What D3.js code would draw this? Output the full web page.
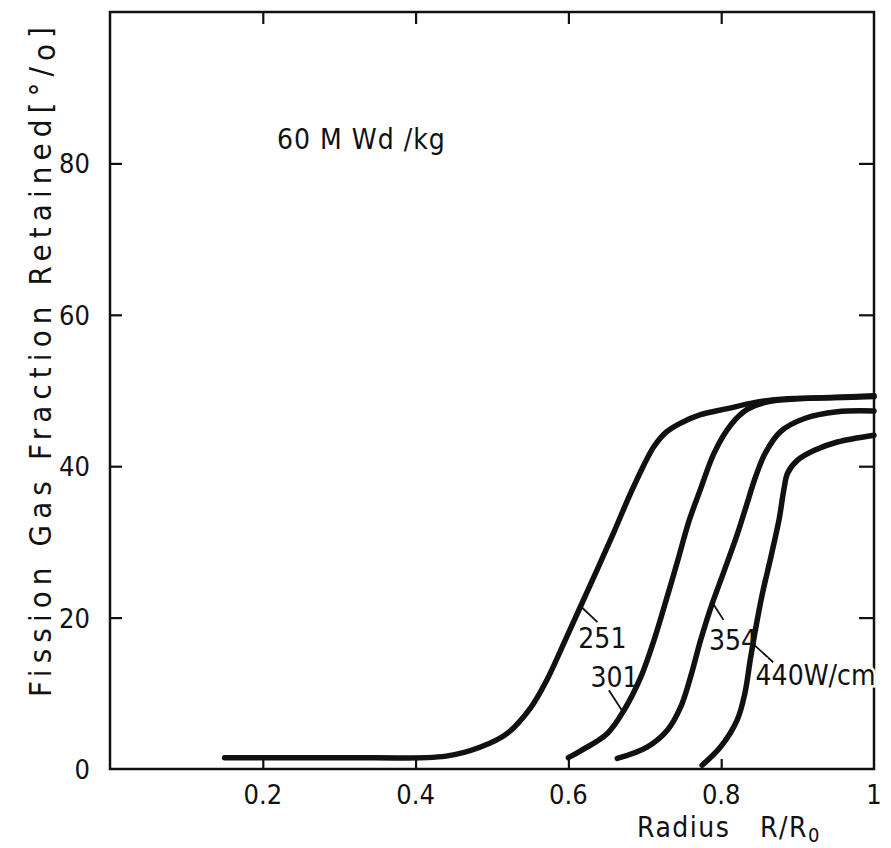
<!DOCTYPE html>
<html>
<head>
<meta charset="utf-8">
<script src="https://cdn.jsdelivr.net/npm/d3@7"></script>
<style>
  body { margin: 0; background: #fff; }
  svg text {
    font-family: "DejaVu Sans Condensed", "Liberation Sans Narrow", "DejaVu Sans", sans-serif;
    font-stretch: condensed;
    fill: #111;
  }
</style>
</head>
<body>
<div id="chart"></div>
<script>
// curves: radius R/R0 vs retained fraction [%]
const r251 = [0.15, 0.30, 0.44, 0.485, 0.52, 0.55, 0.572, 0.594, 0.616, 0.638, 0.66, 0.68, 0.698, 0.712, 0.728, 0.745, 0.773, 0.808, 0.843, 0.887, 0.93, 1.0];
const f251 = [1.5, 1.5, 1.7, 2.9, 4.7, 8.0, 11.8, 16.6, 21.5, 26.4, 31.4, 36.1, 40.0, 42.6, 44.5, 45.6, 46.8, 47.6, 48.4, 48.9, 49.0, 49.2];

const r301 = [0.6, 0.616, 0.651, 0.673, 0.695, 0.712, 0.73, 0.743, 0.758, 0.773, 0.791, 0.813, 0.834, 0.861, 0.9, 0.95, 1.0];
const f301 = [1.5, 2.4, 4.7, 7.8, 12.2, 17.0, 23.0, 27.5, 32.8, 37.0, 41.8, 45.5, 47.5, 48.5, 48.9, 49.1, 49.3];

const r354 = [0.664, 0.703, 0.73, 0.747, 0.76, 0.773, 0.786, 0.804, 0.821, 0.833, 0.845, 0.858, 0.878, 0.909, 0.952, 1.0];
const f354 = [1.4, 2.9, 5.2, 8.2, 12.2, 17.0, 21.2, 26.2, 31.0, 34.8, 38.6, 41.8, 44.6, 46.3, 47.2, 47.3];

const r440 = [0.775, 0.799, 0.821, 0.831, 0.838, 0.845, 0.854, 0.865, 0.876, 0.882, 0.887, 0.9, 0.922, 0.952, 1.0];
const f440 = [0.5, 2.9, 6.5, 10.0, 14.4, 18.5, 23.2, 28.0, 33.1, 36.9, 39.1, 40.8, 42.1, 43.2, 44.1];

const xTicks = [0.2, 0.4, 0.6, 0.8, 1];
const xTickLabels = ["0.2", "0.4", "0.6", "0.8", "1"];
const yTicks = [0, 20, 40, 60, 80];

// curve labels: text, label anchor (r, f), leader from (r, f) to (r, f)
const labelText = ["251", "301", "354", "440W/cm"];
const labelPos = [[0.613, 16.0], [0.629, 10.8], [0.784, 15.7], [0.845, 11.1]];
const leaderFrom = [[0.616, 21.5], [0.653, 10.4], [0.789, 21.9], [0.841, 16.6]];
const leaderTo = [[0.638, 19.4], [0.671, 7.6], [0.803, 19.7], [0.868, 14.1]];

const width = 891, height = 848;
const margin = { top: 12, right: 17, bottom: 79, left: 110 };

const svg = d3.select('#chart')
    .append('svg')
    .attr('width', width)
    .attr('height', height);

svg.append('rect')
    .attr('width', width)
    .attr('height', height)
    .attr('fill', '#fff');

const x = d3.scaleLinear()
    .domain([0, 1])
    .range([margin.left, width - margin.right]);

const y = d3.scaleLinear()
    .domain([0, 100])
    .range([height - margin.bottom, margin.top]);

const x0 = x(0), x1 = x(1), y0 = y(0), y1 = y(100);

// frame
svg.append('rect')
    .attr('x', x0)
    .attr('y', y1)
    .attr('width', x1 - x0)
    .attr('height', y0 - y1)
    .attr('fill', 'none')
    .attr('stroke', '#111')
    .attr('stroke-width', 2.5);

// inward ticks on all four sides
const inner = xTicks.filter(d => d > 0 && d < 1);
const bottomAxis = d3.axisBottom(x).tickValues(inner).tickSizeInner(-10).tickSizeOuter(0).tickFormat('');
const topAxis = d3.axisTop(x).tickValues(inner).tickSizeInner(-12).tickSizeOuter(0).tickFormat('');
const leftAxis = d3.axisLeft(y).tickValues(yTicks.filter(d => d > 0)).tickSizeInner(-12).tickSizeOuter(0).tickFormat('');
const rightAxis = d3.axisRight(y).tickValues(yTicks.filter(d => d > 0)).tickSizeInner(-15).tickSizeOuter(0).tickFormat('');

svg.append('g').attr('transform', `translate(0,${y0})`).call(bottomAxis);
svg.append('g').attr('transform', `translate(0,${y1})`).call(topAxis);
svg.append('g').attr('transform', `translate(${x0},0)`).call(leftAxis);
svg.append('g').attr('transform', `translate(${x1},0)`).call(rightAxis);

svg.selectAll('.domain').remove();
svg.selectAll('.tick line')
    .attr('stroke', '#111')
    .attr('stroke-width', 2.2);

// tick labels
svg.append('g')
    .selectAll('text')
    .data(xTicks)
    .join('text')
    .attr('x', d => x(d))
    .attr('y', y0 + 35)
    .attr('text-anchor', 'middle')
    .style('font-size', '27px')
    .text((d, i) => xTickLabels[i]);

svg.append('g')
    .selectAll('text')
    .data(yTicks)
    .join('text')
    .attr('x', x0 - 20)
    .attr('y', d => y(d) + 10)
    .attr('text-anchor', 'end')
    .style('font-size', '27px')
    .text(d => d);

// axis titles
const xTitle = svg.append('text')
    .attr('x', 637)
    .attr('y', 837)
    .style('font-size', '28px')
    .style('letter-spacing', '1.5px');
xTitle.append('tspan').text('Radius');
xTitle.append('tspan').attr('x', 760).text('R/R');
xTitle.append('tspan').attr('dy', 5).style('font-size', '20px').text('0');

const yTitle = svg.append('text')
    .attr('transform', `translate(51,${362}) rotate(-90)`)
    .attr('text-anchor', 'middle')
    .attr('textLength', 670)
    .attr('lengthAdjust', 'spacing')
    .style('font-size', '31px');
yTitle.append('tspan').text('Fission  Gas Fraction Retained[°/');
yTitle.append('tspan').attr('dy', 4).text('o');
yTitle.append('tspan').attr('dy', -4).text(']');

svg.append('text')
    .attr('x', 277)
    .attr('y', 149)
    .style('font-size', '28px')
    .style('letter-spacing', '1px')
    .text('60 M Wd /kg');

// curves
const series = [
    { name: '251', r: r251, f: f251 },
    { name: '301', r: r301, f: f301 },
    { name: '354', r: r354, f: f354 },
    { name: '440', r: r440, f: f440 }
];

const line = d3.line()
    .x(d => x(d[0]))
    .y(d => y(d[1]))
    .curve(d3.curveCatmullRom.alpha(0.5));

svg.append('g')
    .selectAll('path')
    .data(series)
    .join('path')
    .attr('d', s => line(d3.zip(s.r, s.f)))
    .attr('fill', 'none')
    .attr('stroke', '#111')
    .attr('stroke-width', 5.5)
    .attr('stroke-linecap', 'round')
    .attr('stroke-linejoin', 'round');

// leaders and labels
svg.append('g')
    .selectAll('line')
    .data(labelText)
    .join('line')
    .attr('x1', (d, i) => x(leaderFrom[i][0]))
    .attr('y1', (d, i) => y(leaderFrom[i][1]))
    .attr('x2', (d, i) => x(leaderTo[i][0]))
    .attr('y2', (d, i) => y(leaderTo[i][1]))
    .attr('stroke', '#111')
    .attr('stroke-width', 1.8);

svg.append('g')
    .selectAll('text')
    .data(labelText)
    .join('text')
    .attr('x', (d, i) => x(labelPos[i][0]))
    .attr('y', (d, i) => y(labelPos[i][1]))
    .style('font-size', '28px')
    .style('paint-order', 'stroke')
    .style('stroke', '#fff')
    .style('stroke-width', (d, i) => i === 3 ? 5 : 0)
    .text(d => d);
</script>
</body>
</html>
